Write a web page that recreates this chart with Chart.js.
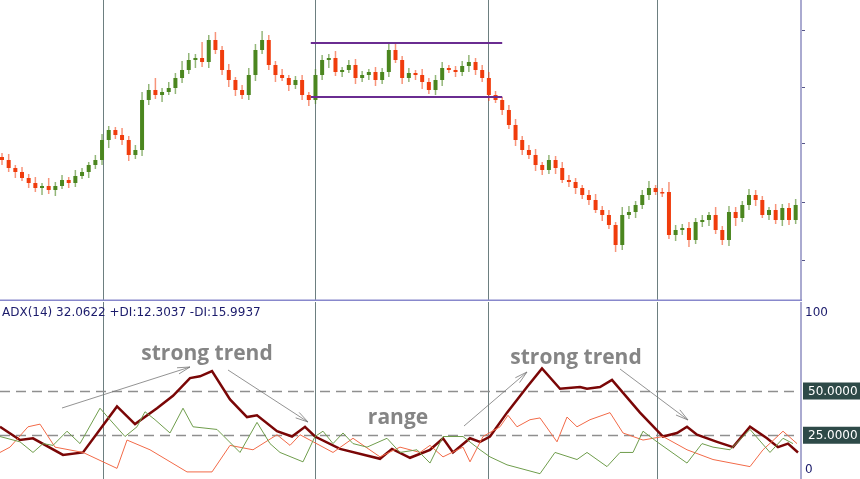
<!DOCTYPE html>
<html><head><meta charset="utf-8">
<script src="https://cdn.jsdelivr.net/npm/chart.js@4"></script>
<style>body{margin:0;background:#fff;width:860px;height:479px;position:relative;overflow:hidden}
#w1{position:absolute;left:0;top:0;width:860px;height:301px}
#w2{position:absolute;left:0;top:302px;width:860px;height:177px}</style></head>
<body><div id="w1"><canvas id="c1"></canvas></div><div id="w2"><canvas id="c2"></canvas></div>
<script>
// price panel (price axis reversed; units are chart price units)
const closes=[160,168,172,178,183,188,186,190,186,180,183,176,172,165,160,140,130,135,140,155,150,100,90,95,92,88,78,70,60,58,62,40,50,70,80,90,95,75,50,40,65,75,78,85,80,95,100,75,60,58,72,70,65,78,75,72,80,72,50,60,78,73,75,82,90,80,68,70,72,66,62,70,78,95,100,110,125,140,150,155,165,170,160,168,180,182,188,195,200,210,215,225,245,215,212,205,195,188,192,192,235,230,228,240,222,220,215,230,240,212,218,205,195,200,215,210,220,208,220,205];
const opens=[157,160,168,172,178,183,188,186,190,186,180,183,176,172,165,160,140,130,135,140,155,150,100,90,95,92,88,78,70,60,58,62,40,50,70,80,90,95,75,50,40,65,75,78,85,80,95,100,75,60,58,72,70,65,78,75,72,80,72,50,60,78,73,75,82,90,80,68,70,72,66,62,70,78,95,100,110,125,140,150,155,165,170,160,168,180,182,188,195,200,210,215,225,245,215,212,205,195,188,192,192,235,230,228,240,222,220,215,230,240,212,218,205,195,200,215,210,220,208,220];
const wickUp=[4,6,3,5,4,6,3,8,4,5,3,6,4,3,5,6,4,3,7,4,5,8,6,12,4,6,5,9,7,4,16,5,8,4,6,3,5,7,6,9,5,4,6,3,4,5,3,6,5,4,7,3,5,6,4,3,5,4,8,6,4,5,3,6,4,5,6,3,4,5,7,4,5,6,4,3,5,6,4,5,6,3,5,4,6,5,4,3,5,6,4,5,3,8,6,4,5,7,3,4,10,5,4,6,4,5,3,8,4,6,5,4,6,5,4,3,6,4,5,6];
const wickDn=[5,4,6,3,5,4,7,4,6,3,5,4,3,6,4,5,8,4,5,6,4,6,5,4,7,3,6,5,4,8,5,6,4,5,7,6,4,5,6,4,5,7,3,6,4,5,6,4,5,8,4,5,3,6,4,5,6,4,5,3,6,4,5,7,4,5,6,3,5,4,6,5,4,6,3,5,4,6,5,4,6,5,4,6,3,5,6,4,5,3,6,4,7,5,4,6,4,5,3,5,4,6,5,7,4,5,6,4,5,6,8,4,5,6,3,5,4,6,5,4];
const priceGridX=[15.15,46.9,72.9,98.2];
// ADX panel, x in time units 0..802
const adxX=[0,20,33,63,83,117,135,157,173,190,200,212,230,247,257,277,292,305,315,340,380,392,410,430,443,453,470,480,490,507,527,542,560,580,587,600,612,640,663,677,687,697,717,733,750,767,778,788,798];
const adxY=[29.5,22,23,13.6,15,41,31,40,47,57,58,61,45,35,36,27,24,29.5,24,17,11.4,17,12,16.5,23,15,23,21,24,37.5,52,62.5,51,52,51,52,56,37.5,24,26,29.5,25,21,18,29.5,23,18,20,15];
const pdiX=[0,20,33,43,53,67,80,100,110,125,137,145,155,170,183,193,217,240,257,270,280,303,315,323,333,343,353,367,387,400,417,430,443,463,480,490,507,540,555,577,587,607,620,633,643,657,687,702,713,730,750,770,783,793];
const pdiY=[24,21,15,20,19,27,20,40,33.5,24,29.5,38,33.5,26,40,29.5,28,15,32,20,15,9.7,24,27,20,26,20,18,23,15,16.5,9,24,24,16.5,12.5,8,3,15,11,15,7,15,15,27,21,9,20,18,16.5,28,15,23,20];
const mdiX=[0,10,28,40,55,83,117,127,150,187,212,230,253,277,290,300,333,353,380,400,420,430,443,463,470,483,500,508,517,530,540,557,567,577,590,610,623,643,663,687,713,750,763,783,797];
const mdiY=[15,18,29.5,31,18,15,6,22,16.5,4,4,19,16.5,25,19,25,15,23,12.5,18,15,19,12.5,18,9.7,24,29.5,36,29.5,33.5,34.5,21,35,29.5,33.5,37.5,26,22,24,16.5,11,7,16.5,27,20];
const adxGridX=[103,315,488,657];
const levels=[50,25];
const levelLabels=['50.0000','25.0000'];

const pts=(xs,ys)=>xs.map((x,i)=>({x:x,y:ys[i]}));
const upper={id:'candles',afterDatasetsDraw(ch){
  const c=ch.ctx,xs=ch.scales.x,ys=ch.scales.y;
  c.save();
  c.strokeStyle='#6d7f80';c.lineWidth=1;
  priceGridX.forEach(v=>{const p=Math.round(xs.getPixelForValue(v))+.5;c.beginPath();c.moveTo(p,0);c.lineTo(p,301);c.stroke();});
  for(let i=0;i<closes.length;i++){
    const o=opens[i],cl=closes[i],up=cl<o;
    const col=up?'#4b861f':'#f03c0c';
    const x=xs.getPixelForValue(i);
    const top=Math.min(o,cl)-wickUp[i],bot=Math.max(o,cl)+wickDn[i];
    c.strokeStyle=up?'rgba(75,134,31,0.6)':'rgba(240,60,12,0.55)';c.lineWidth=1.5;
    c.beginPath();c.moveTo(x,ys.getPixelForValue(top));c.lineTo(x,ys.getPixelForValue(bot));c.stroke();
    const y1=ys.getPixelForValue(Math.min(o,cl)),y2=ys.getPixelForValue(Math.max(o,cl));
    c.fillStyle=col;c.fillRect(x-2,y1,4,Math.max(1.5,y2-y1));
  }
  c.strokeStyle='#6a2c91';c.lineWidth=2;
  [43,97].forEach(v=>{const y=ys.getPixelForValue(v);c.beginPath();c.moveTo(xs.getPixelForValue(46.3),y);c.lineTo(xs.getPixelForValue(75.0),y);c.stroke();});
  c.fillStyle='#aaaad0';c.fillRect(800,0,2,301);
  c.fillStyle='#555588';[30,87,143,202,260].forEach(y=>c.fillRect(802,y,3,1));
  c.fillStyle='#8888cc';c.fillRect(0,299.5,802,1.5);
  c.restore();}};
new Chart(document.getElementById('c1'),{type:'line',data:{datasets:[]},
 options:{responsive:true,maintainAspectRatio:false,animation:false,layout:{padding:{left:0,right:59,top:0,bottom:0}},
 plugins:{legend:{display:false},tooltip:{enabled:false}},
 scales:{x:{type:'linear',display:false,min:-0.3,max:119.8},y:{display:false,reverse:true,min:0,max:301}}},plugins:[upper]});

const lower={id:'adxdeco',beforeDatasetsDraw(ch){
  const c=ch.ctx,xs=ch.scales.x,ys=ch.scales.y;c.save();
  c.strokeStyle='#6d7f80';c.lineWidth=1;
  adxGridX.forEach(v=>{const p=Math.round(xs.getPixelForValue(v))+.5;c.beginPath();c.moveTo(p,0);c.lineTo(p,177);c.stroke();});
  c.strokeStyle='#8f8f8f';c.lineWidth=1.3;c.setLineDash([10,6]);
  levels.forEach(v=>{const y=Math.round(ys.getPixelForValue(v))+.5;c.beginPath();c.moveTo(0,y);c.lineTo(801,y);c.stroke();});
  c.restore();},
 afterDatasetsDraw(ch){
  const c=ch.ctx,xs=ch.scales.x,ys=ch.scales.y;c.save();
  c.fillStyle='#aaaad0';c.fillRect(800,0,2,177);
  c.font='12px Tahoma, "DejaVu Sans", sans-serif';c.fillStyle='#1b1b6b';c.textBaseline='middle';
  c.fillText('ADX(14) 32.0622 +DI:12.3037 -DI:15.9937',2,11);
  c.fillText('100',805,11);c.fillText('0',805,168);
  levels.forEach((v,i)=>{const y=ys.getPixelForValue(v);c.fillStyle='#2e4a48';c.fillRect(803,y-8,57,17);
    c.fillStyle='#fff';c.font='12px "DejaVu Sans", sans-serif';c.fillText(levelLabels[i],808,y+1);});
  c.font='bold 21px "Open Sans", "DejaVu Sans", sans-serif';c.fillStyle='#858585';c.textAlign='center';
  c.fillText('strong trend',207,52);c.fillText('strong trend',576,56);c.fillText('range',398,116);
  const arrow=(x1,y1,x2,y2)=>{c.strokeStyle='#777';c.lineWidth=0.8;c.beginPath();c.moveTo(x1,y1);c.lineTo(x2,y2);c.stroke();
    const a=Math.atan2(y2-y1,x2-x1),L=13;
    [0.25,-0.25].forEach(d=>{c.beginPath();c.moveTo(x2,y2);c.lineTo(x2-L*Math.cos(a+d),y2-L*Math.sin(a+d));c.stroke();});};
  arrow(62,106,190,65);arrow(228,68,308,120);arrow(464,124,527,70);arrow(620,67,688,118);
  c.restore();}};
new Chart(document.getElementById('c2'),{type:'line',data:{datasets:[
 {data:pts(pdiX,pdiY),borderColor:'#6f9d4c',borderWidth:1,pointRadius:0,tension:0},
 {data:pts(mdiX,mdiY),borderColor:'#f26a48',borderWidth:1,pointRadius:0,tension:0},
 {data:pts(adxX,adxY),borderColor:'#7a0606',borderWidth:2.5,pointRadius:0,tension:0}]},
 options:{responsive:true,maintainAspectRatio:false,animation:false,layout:{padding:{left:0,right:59,top:0,bottom:0}},
 plugins:{legend:{display:false},tooltip:{enabled:false}},
 scales:{x:{type:'linear',display:false,min:0,max:801},y:{display:false,min:0,max:100}}},plugins:[lower]});
</script></body></html>
